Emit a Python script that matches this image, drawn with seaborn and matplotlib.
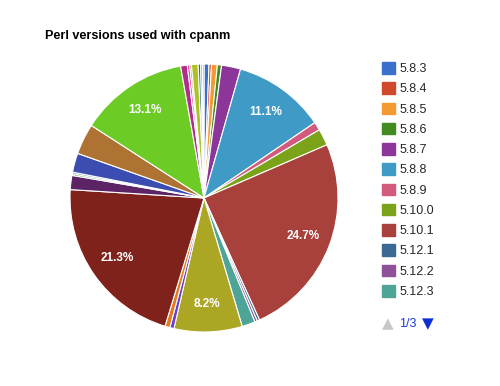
import matplotlib
matplotlib.use("Agg")
import matplotlib.pyplot as plt
from matplotlib.patches import Patch
import seaborn as sns

labels = ["5.8.3", "5.8.4", "5.8.5", "5.8.6", "5.8.7", "5.8.8", "5.8.9",
          "5.10.0", "5.10.1", "5.12.1", "5.12.2", "5.12.3", "5.12.4",
          "5.14.0", "5.14.1", "5.14.2", "5.14.3", "5.15.4", "5.15.8",
          "5.16.0", "5.16.1", "5.16.2", "5.17.5", "5.17.9", "5.17.11",
          "5.18.0", "5.18.1", "5.19.0", "5.19.2"]
shares = [0.6, 0.3, 0.7, 0.5, 2.3, 11.1, 1.0,
          2.0, 24.7, 0.3, 0.3, 1.6, 8.2,
          0.5, 0.6, 21.3, 1.7, 0.2, 0.2,
          2.3, 3.7, 13.1, 0.8, 0.3, 0.2,
          0.8, 0.3, 0.2, 0.2]
colors = ["#3a6fcc", "#d0492c", "#f39a33", "#418b1f", "#8c3699", "#3f9bc6",
          "#d25a7d", "#7ba31a", "#a8403b", "#3c6894", "#8e5199", "#4ea597",
          "#aca625", "#6a3fd0", "#e47a1e", "#80221c", "#5c2464", "#3f9264",
          "#5a77a6", "#3b4db0", "#ae7332", "#6ccb24", "#b02e8a", "#e9509e",
          "#9c5935", "#adc224", "#2a778d", "#668d1c", "#bea413"]
legend_page = 12
pager_text = "1/3"
title = "Perl versions used with cpanm"

sns.set_theme(style="white")
plt.rcParams["font.family"] = ["Liberation Sans", "DejaVu Sans"]

W, H = 500, 386
fig = plt.figure(figsize=(W / 100, H / 100), dpi=100)
fig.patch.set_facecolor("white")

cx, cy, r = 204, 198, 134
ax = fig.add_axes([(cx - r) / W, (H - cy - r) / H, 2 * r / W, 2 * r / H])
palette = sns.color_palette(colors)


def fmt(p):
    return f"{p:.1f}%" if p >= 5 else ""


wedges, texts, autotexts = ax.pie(
    shares, colors=palette, startangle=90, counterclock=False,
    autopct=fmt, pctdistance=0.79,
    wedgeprops=dict(edgecolor="white", linewidth=0.8),
    textprops=dict(color="white", fontsize=8.5, fontweight="bold"))
ax.set_xlim(-1.0, 1.0)
ax.set_ylim(-1.0, 1.0)
ax.set_aspect("equal")
ax.axis("off")

fig.text(45 / W, 1 - 39 / H, title, fontsize=9.1, fontweight="bold",
         color="black", va="baseline", ha="left")

handles = [Patch(facecolor=palette[i], edgecolor=palette[i])
           for i in range(legend_page)]
fig.legend(handles, labels[:legend_page], loc="upper left",
           bbox_to_anchor=(382 / W, 1 - 62 / H), frameon=False,
           fontsize=9, handlelength=1.04, handleheight=1.04,
           handletextpad=0.38, labelspacing=0.58, borderaxespad=0,
           borderpad=0)

fig.text(388 / W, 1 - 324 / H, "\u25B2", fontsize=11, color="#c8c8c8",
         ha="center", va="center", family="DejaVu Sans")
fig.text(399 / W, 1 - 324 / H, pager_text, fontsize=9, color="#1a3bd6",
         ha="left", va="center")
fig.text(427.5 / W, 1 - 324 / H, "\u25BC", fontsize=11, color="#0a2fd6",
         ha="center", va="center", family="DejaVu Sans")

fig.savefig("out.png", dpi=100, facecolor="white")
